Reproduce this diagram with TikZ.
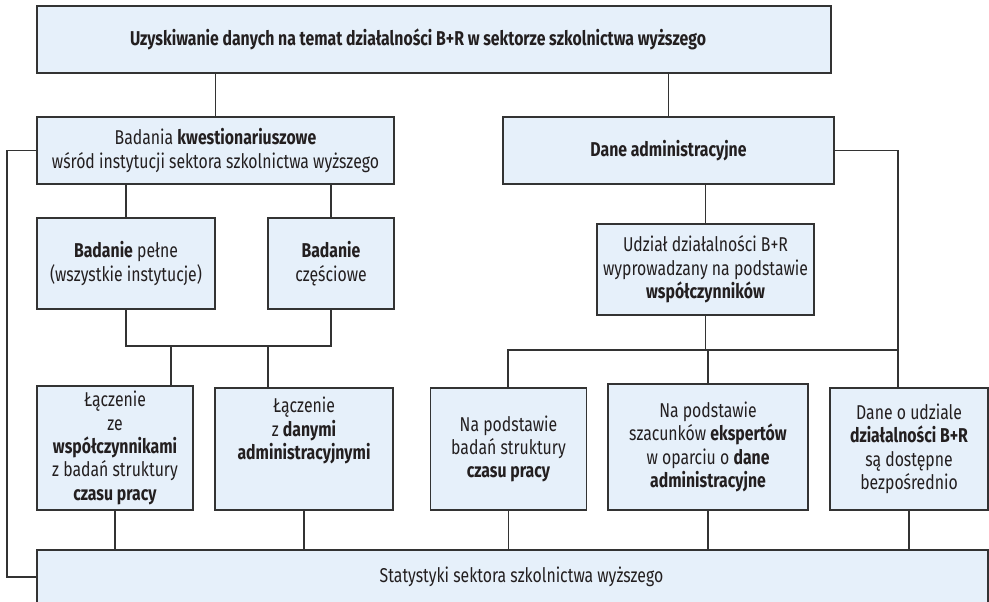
\documentclass[tikz,border=0pt]{standalone}
\usepackage{fontspec}
\setmainfont{Fira Sans}[FakeStretch=0.79]
\usetikzlibrary{positioning, calc}
\definecolor{boxfill}{RGB}{230,240,250}
\definecolor{boxline}{RGB}{51,51,51}
\definecolor{boxtext}{RGB}{35,31,32}

\begin{document}
\begin{tikzpicture}[x=0.5pt, y=-0.5pt,
    box/.style={draw=boxline, fill=boxfill, line width=0.75pt, align=center, inner sep=0pt,
        text=boxtext, font=\fontsize{10}{11.7}\selectfont},
    wh/.style 2 args={minimum width=#1*0.5pt, minimum height=#2*0.5pt},
    link/.style={draw=boxline, line width=0.55pt}]
    \useasboundingbox[fill=white] (0,0) rectangle (989,601);

    % top level
    \node[box, wh={794}{67}] (top) at (434,39.5) {\textbf{Uzyskiwanie danych na temat działalności B+R w sektorze szkolnictwa wyższego}\hspace*{16pt}};
    \node[box, wh={357}{67}] (kw) at (215.5,150.5) {Badania \textbf{kwestionariuszowe}\\wśród instytucji sektora szkolnictwa wyższego};
    \node[box, wh={331}{67}] (adm) at (668.5,150.5) {\textbf{Dane administracyjne}};

    % survey branch
    \node[box, wh={178}{91}] (pelne) at (126,263.5) {\textbf{Badanie} pełne\\(wszystkie instytucje)};
    \node[box, wh={126}{91}] (czesc) at (331,263.5) {\textbf{Badanie}\\częściowe};
    \node[box, wh={156}{124}] (lacz1) at (115,448) {Łączenie\\ze\\\textbf{współczynnikami}\\z badań struktury\\\textbf{czasu pracy}};
    \node[box, wh={178}{122}] (lacz2) at (304,449) {Łączenie\\z \textbf{danymi}\\\textbf{administracyjnymi}\\[9pt]};

    % administrative branch
    \node[box, wh={217}{91}] (udzial) at (705.5,269.5) {Udział działalności B+R\\wyprowadzany na podstawie\\\textbf{współczynników}};
    \node[box, wh={156}{122}] (napod) at (508.5,449) {Na podstawie\\badań struktury\\\textbf{czasu pracy}};
    \node[box, wh={200}{126}] (szac) at (708,447) {Na podstawie\\szacunków \textbf{ekspertów}\\w oparciu o \textbf{dane}\\\textbf{administracyjne}};
    \node[box, wh={158}{122}] (udz2) at (909,449) {Dane o udziale\\\textbf{działalności B+R}\\są dostępne\\bezpośrednio};

    % result
    \node[box, wh={951}{54}] (stat) at (512.5,577) {\hspace*{9pt}Statystyki sektora szkolnictwa wyższego};

    % connectors
    \coordinate (j1) at (171,346);
    \coordinate (j2) at (268,346);
    \coordinate (b1) at (508,350);
    \coordinate (b2) at (898,350);
    \coordinate (lft) at (7,0);

    \draw[link] (kw.north) -- (kw.north |- top.south);
    \draw[link] (top.south -| adm.north) -- (adm.north);
    \draw[link] (kw.south -| pelne.north) -- (pelne.north);
    \draw[link] (kw.south -| czesc.north) -- (czesc.north);
    \draw[link] (pelne.south) |- (j1) -| (czesc.south);
    \draw[link] (j1) -- (j1 |- lacz1.north);
    \draw[link] (j2) -- (j2 |- lacz2.north);
    \draw[link] (adm.south -| udzial.north) -- (udzial.north);
    \draw[link] (udzial.south) -- (udzial.south |- b1);
    \draw[link] (b1 |- napod.north) -- (b1) -- (b2);
    \draw[link] (b1 -| szac.north) -- (szac.north);
    \draw[link] (adm.east) -| (b2) -- (b2 |- udz2.north);
    \draw[link] (kw.west) -| (lft |- stat.west) -- (stat.west);
    \foreach \n in {lacz1, lacz2, napod, szac, udz2}
        \draw[link] (\n.south) -- (\n.south |- stat.north);
\end{tikzpicture}
\end{document}
